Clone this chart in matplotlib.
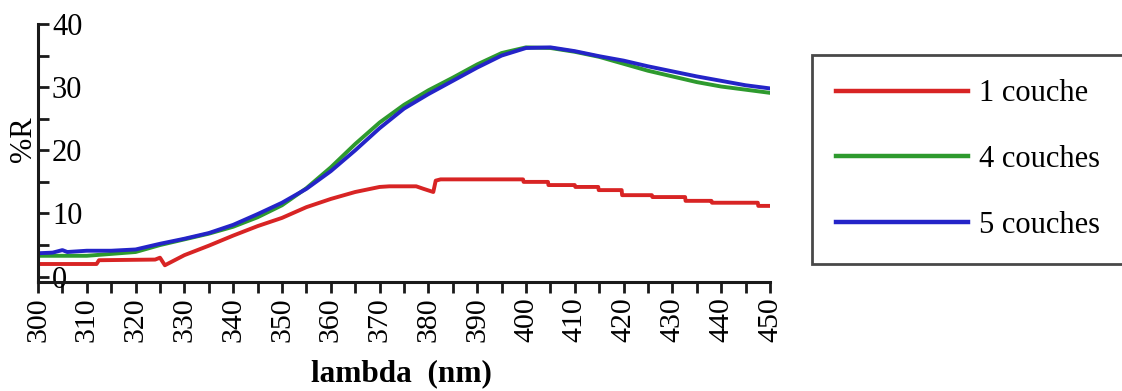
import matplotlib
matplotlib.use("Agg")
import matplotlib.pyplot as plt
from matplotlib.ticker import MultipleLocator

plt.rcParams['font.family'] = ['Liberation Serif', 'DejaVu Serif']

# ---- data ----
nm_4 = [300, 305, 310, 315, 320, 325, 330, 335, 340, 345, 350, 355, 360, 365, 370,
        375, 380, 385, 390, 395, 400, 405, 410, 415, 420, 425, 430, 435, 440, 445, 450]
r_4 = [3.3, 3.3, 3.3, 3.6, 3.9, 5.0, 5.9, 6.8, 7.9, 9.4, 11.3, 14.0, 17.3, 21.0, 24.4,
       27.2, 29.5, 31.5, 33.6, 35.4, 36.3, 36.2, 35.6, 34.8, 33.7, 32.6, 31.7, 30.8, 30.1, 29.6, 29.1]

nm_5 = [300, 303, 305, 306, 310, 315, 320, 325, 330, 335, 340, 345, 350, 355, 360, 365, 370,
        375, 380, 385, 390, 395, 400, 405, 410, 415, 420, 425, 430, 435, 440, 445, 450]
r_5 = [3.7, 3.8, 4.2, 3.9, 4.1, 4.1, 4.3, 5.2, 6.0, 6.9, 8.2, 9.9, 11.7, 13.9, 16.7, 20.0, 23.5,
       26.6, 28.9, 31.0, 33.1, 35.0, 36.2, 36.3, 35.7, 34.9, 34.2, 33.3, 32.5, 31.7, 31.0, 30.3, 29.8]

nm_1 = [300, 312, 312.5, 324, 325, 326, 328, 330, 335, 340, 345, 350, 355, 360, 365, 370,
        372, 377.5, 379, 381, 381.5, 382.5, 399.4, 399.5, 404.5, 404.6, 410, 410.1,
        414.8, 414.9, 419.6, 419.7, 425.8, 425.9, 432.6, 432.7, 438, 438.1, 447.5, 447.6, 450]
r_1 = [2.0, 2.0, 2.6, 2.7, 3.0, 1.8, 2.6, 3.4, 4.9, 6.5, 8.0, 9.3, 11.0, 12.3, 13.4, 14.2,
       14.3, 14.3, 13.9, 13.4, 15.2, 15.4, 15.4, 15.0, 15.0, 14.5, 14.5, 14.2,
       14.2, 13.7, 13.7, 12.9, 12.9, 12.6, 12.6, 12.0, 12.0, 11.7, 11.7, 11.2, 11.2]

labels = ['1 couche', '4 couches', '5 couches']
colors = ['#d82424', '#2e9a2e', '#2424c8']

xticks = list(range(300, 451, 10))
yticks = [0, 10, 20, 30, 40]

# ---- figure ----
W, H = 1122, 391
fig = plt.figure(figsize=(W / 100, H / 100), dpi=100)
ax = fig.add_axes([38 / W, 1 - 282 / H, (770 - 38) / W, (282 - 24) / H])

ax.plot(nm_1, r_1, color=colors[0], lw=2.8, label=labels[0])
ax.plot(nm_4, r_4, color=colors[1], lw=2.8, label=labels[1])
ax.plot(nm_5, r_5, color=colors[2], lw=2.8, label=labels[2])

ax.set_xlim(300, 450)
ax.set_ylim(-0.85, 40)

for s in ['top', 'right']:
    ax.spines[s].set_visible(False)
for s in ['left', 'bottom']:
    ax.spines[s].set_linewidth(2.2)
    ax.spines[s].set_color('#1a1a1a')

ax.set_xticks(xticks)
ax.set_xticklabels([str(t) for t in xticks], rotation=90, fontsize=21.5)
ax.xaxis.set_minor_locator(MultipleLocator(5))
ax.tick_params(axis='x', which='both', direction='out', length=8, width=2, pad=3,
               color='#1a1a1a')

ax.set_yticks(yticks)
ax.set_yticklabels([str(t) for t in yticks], fontsize=22)
ax.yaxis.set_minor_locator(MultipleLocator(5))
ax.tick_params(axis='y', which='both', direction='in', length=8, width=2, pad=-10,
               color='#1a1a1a')
for lbl in ax.get_yticklabels():
    lbl.set_horizontalalignment('left')

fig.text(23 / W, 1 - 139 / H, '%R', rotation=90, ha='center', va='center', fontsize=22)
fig.text(401 / W, 1 - 374 / H, 'lambda  (nm)', ha='center', va='center', fontsize=22.5,
         fontweight='bold')

leg = ax.legend(loc='upper left', bbox_to_anchor=(812 / W, 1 - 55 / H),
                bbox_transform=fig.transFigure, borderaxespad=0, fontsize=22,
                handlelength=4.3, handletextpad=0.35, labelspacing=1.2,
                borderpad=0.8, fancybox=False, frameon=True)
leg.get_frame().set_edgecolor('#1a1a1a')
leg.get_frame().set_linewidth(2)
for line in leg.get_lines():
    line.set_linewidth(3.2)

fig.savefig('out.png', dpi=100)
